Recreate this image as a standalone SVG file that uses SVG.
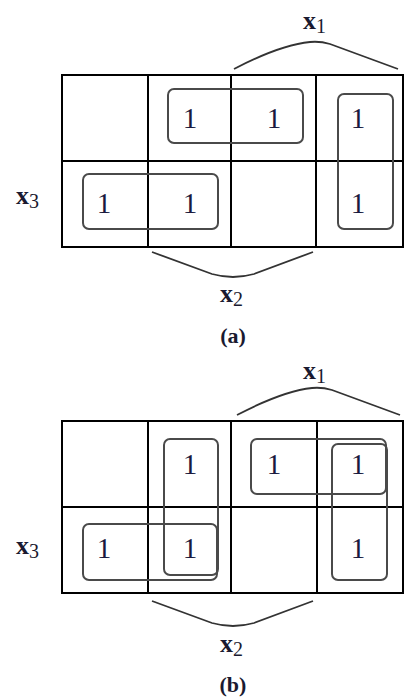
<svg xmlns="http://www.w3.org/2000/svg" width="415" height="699" viewBox="0 0 415 699">
<style>
.grid{fill:none;stroke:#000;stroke-width:2}
.loop{fill:none;stroke:#4a4a4a;stroke-width:2}
.brace{fill:none;stroke:#333;stroke-width:1.8}
.one{font-family:"Liberation Serif",serif;font-size:29px;fill:#1a1a40;text-anchor:middle}
.var{font-family:"Liberation Serif",serif;font-size:26px;font-weight:bold;fill:#1a1a30}
.sub{font-family:"Liberation Serif",serif;font-size:20px;fill:#1a1a30}
.cap{font-family:"Liberation Serif",serif;font-size:22px;font-weight:bold;fill:#1a1a30;text-anchor:middle}
</style>
<rect width="415" height="699" fill="#fff"/>
<g id="map-a">
<g id="grid-a">
<rect class="grid" x="62" y="75" width="341" height="172"/>
<line class="grid" x1="148" y1="75" x2="148" y2="247"/>
<line class="grid" x1="231" y1="75" x2="231" y2="247"/>
<line class="grid" x1="316" y1="75" x2="316" y2="247"/>
<line class="grid" x1="62" y1="161" x2="403" y2="161"/>
</g>
<g id="loops-a">
<rect class="loop" x="168" y="89" width="135" height="54" rx="6"/>
<rect class="loop" x="338" y="94" width="55" height="135" rx="6"/>
<rect class="loop" x="83" y="174" width="135" height="55" rx="6"/>
</g>
<g id="ones-a">
<text class="one" x="190" y="128">1</text>
<text class="one" x="274" y="128">1</text>
<text class="one" x="358" y="128">1</text>
<text class="one" x="104" y="213">1</text>
<text class="one" x="190" y="213">1</text>
<text class="one" x="358" y="213">1</text>
</g>
<g id="braces-a">
<path class="brace" d="M234,69 Q280,45 310,42 Q320,41 330,44 L398,69"/>
<path class="brace" d="M152,252 L212,274 Q233,280 254,274 L313,252"/>
</g>
<g id="labels-a">
<text x="303" y="29"><tspan class="var">x</tspan><tspan class="sub" dy="4">1</tspan></text>
<text x="16" y="204"><tspan class="var">x</tspan><tspan class="sub" dy="4">3</tspan></text>
<text x="220" y="302"><tspan class="var">x</tspan><tspan class="sub" dy="4">2</tspan></text>
<text class="cap" x="233" y="343">(a)</text>
</g>
</g>
<g id="map-b">
<g id="grid-b">
<rect class="grid" x="62" y="421" width="341" height="172"/>
<line class="grid" x1="148" y1="421" x2="148" y2="593"/>
<line class="grid" x1="231" y1="421" x2="231" y2="593"/>
<line class="grid" x1="317" y1="421" x2="317" y2="593"/>
<line class="grid" x1="62" y1="507" x2="403" y2="507"/>
</g>
<g id="loops-b">
<rect class="loop" x="164" y="439" width="54" height="136" rx="6"/>
<rect class="loop" x="83" y="524" width="134" height="56" rx="6"/>
<rect class="loop" x="251" y="439" width="135" height="55" rx="6"/>
<rect class="loop" x="332" y="444" width="55" height="136" rx="6"/>
</g>
<g id="ones-b">
<text class="one" x="190" y="474">1</text>
<text class="one" x="274" y="474">1</text>
<text class="one" x="358" y="474">1</text>
<text class="one" x="104" y="558">1</text>
<text class="one" x="190" y="558">1</text>
<text class="one" x="358" y="558">1</text>
</g>
<g id="braces-b">
<path class="brace" d="M237,415 Q283,391 312,388 Q322,387 332,390 L400,415"/>
<path class="brace" d="M152,601 L212,623 Q233,629 254,623 L313,601"/>
</g>
<g id="labels-b">
<text x="303" y="379"><tspan class="var">x</tspan><tspan class="sub" dy="4">1</tspan></text>
<text x="16" y="554"><tspan class="var">x</tspan><tspan class="sub" dy="4">3</tspan></text>
<text x="220" y="652"><tspan class="var">x</tspan><tspan class="sub" dy="4">2</tspan></text>
<text class="cap" x="233" y="692">(b)</text>
</g>
</g>
</svg>
